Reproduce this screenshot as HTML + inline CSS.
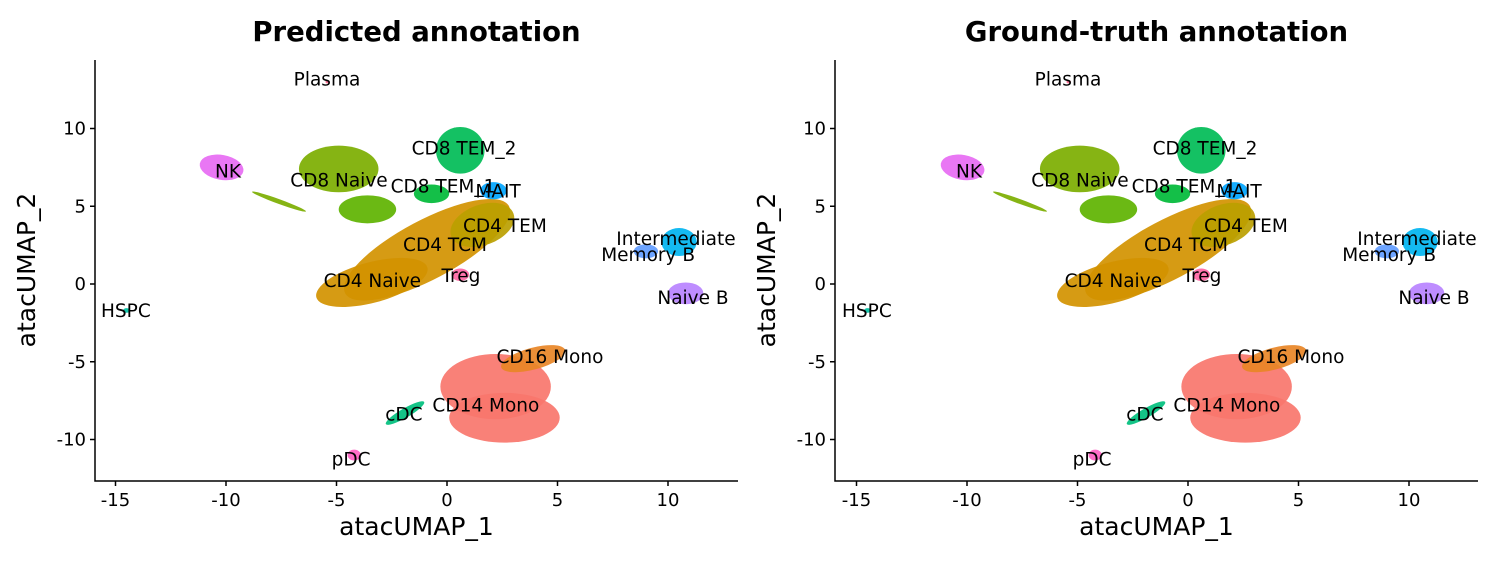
<!DOCTYPE html>
<html><head><meta charset="utf-8">
<style>
body{margin:0;background:#fff;}
svg{display:block;font-family:"DejaVu Sans","Liberation Sans",sans-serif;}
</style></head>
<body>
<svg id="chart" width="1500" height="563" viewBox="0 0 1500 563"></svg>
<script>
// cluster blobs (data units): name, cx, cy, rx, ry, rotation(deg), color
const blobNames = ["CD14 Mono","CD14 Mono low","CD16 Mono","CD4 band","CD4 Naive","CD4 TEM","CD8 Naive","CD8 Naive low","CD8 TEM_2","CD8 TEM_1","MAIT","NK","NK tail","Intermediate","Memory B","Naive B","cDC","pDC","Treg","HSPC","Plasma"];
const blobX = [2.2,2.6,3.9,-0.9,-3.4,1.6,-4.9,-3.6,0.6,-0.7,2.1,-10.2,-7.6,10.5,9.0,10.8,-1.9,-4.2,0.6,-14.5,-5.4];
const blobY = [-6.6,-8.6,-4.8,2.2,0.1,3.8,7.4,4.8,8.6,5.8,6.0,7.5,5.3,2.7,2.1,-0.6,-8.3,-11.0,0.6,-1.7,13.0];
const blobRX = [2.5,2.5,1.5,4.2,2.6,1.5,1.8,1.3,1.1,0.8,0.6,1.0,1.3,0.8,0.55,0.8,1.0,0.3,0.4,0.15,0.1];
const blobRY = [2.1,1.6,0.7,1.9,1.3,1.3,1.5,0.9,1.5,0.6,0.55,0.8,0.15,0.9,0.45,0.7,0.3,0.35,0.4,0.15,0.1];
const blobRot = [0,0,-15,-28,-15,-20,0,0,0,0,0,10,20,0,0,0,-30,0,0,0,0];
const blobColor = ["#F8766D","#F8766D","#E88526","#D39200","#D39200","#BBA000","#7CAE00","#5EB300","#00BC56","#00BA38","#00A5FF","#E76BF3","#7CAE00","#00B4F0","#619CFF","#B983FF","#00BF7D","#FF61C3","#FF67A4","#00C1A3","#FF6C91"];
// labels
const labelText = ["Plasma","CD8 TEM_2","NK","CD8 Naive","CD8 TEM_1","MAIT","CD4 TEM","Intermediate","Memory B","CD4 TCM","Treg","CD4 Naive","Naive B","HSPC","CD16 Mono","CD14 Mono","cDC","pDC"];
const labelX = [-5.43,0.77,-9.91,-4.89,-0.18,2.31,2.62,10.36,9.10,-0.09,0.63,-3.38,11.13,-14.53,4.66,1.76,-1.95,-4.34];
const labelY = [13.16,8.71,7.23,6.65,6.26,5.94,3.74,2.90,1.87,2.52,0.52,0.19,-0.90,-1.74,-4.71,-7.81,-8.39,-11.29];
const xTicks = [-15,-10,-5,0,5,10];
const yTicks = [-10,-5,0,5,10];
const panelTitles = ["Predicted annotation","Ground-truth annotation"];

const NS="http://www.w3.org/2000/svg";
const svg=document.getElementById('chart');
function mk(tag,attrs,parent){const e=document.createElementNS(NS,tag);for(const k in attrs)e.setAttribute(k,attrs[k]);(parent||svg).appendChild(e);return e;}

const panels=[{x0:447,left:95,right:738},{x0:1188,left:835,right:1478}];
panels.forEach((p,pi)=>{
  const g=mk('g',{});
  
  
  const sx=v=>p.x0+v*22.1;
  const sy=v=>284-v*15.55;
  blobNames.forEach((n,i)=>{
    const e=mk('ellipse',{cx:sx(blobX[i]),cy:sy(blobY[i]),rx:blobRX[i]*22.1,ry:blobRY[i]*15.55,fill:blobColor[i],'fill-opacity':0.92,transform:`rotate(${blobRot[i]} ${sx(blobX[i])} ${sy(blobY[i])})`},g);
    
    
  });
  const ax=mk('path',{d:`M${p.left} 60 V481 H${p.right}`,stroke:'#000','stroke-width':1.5,fill:'none'},g);
  
  
  xTicks.forEach(t=>{
    mk('line',{x1:sx(t),x2:sx(t),y1:481,y2:486,stroke:'#000','stroke-width':1.5},g);
    const tx=mk('text',{x:sx(t),y:506,'text-anchor':'middle','font-size':18},g);
    tx.textContent=t;
    
    
  });
  yTicks.forEach(t=>{
    mk('line',{x1:p.left-5,x2:p.left,y1:sy(t),y2:sy(t),stroke:'#000','stroke-width':1.5},g);
    const tx=mk('text',{x:p.left-9,y:sy(t)+6,'text-anchor':'end','font-size':18},g);
    tx.textContent=t;
    
    
  });
  labelText.forEach((l,i)=>{
    const tx=mk('text',{x:sx(labelX[i]),y:sy(labelY[i])+6,'text-anchor':'middle','font-size':18.5},g);
    tx.textContent=l;
    
    
  });
  const cx=(p.left+p.right)/2;
  const ti=mk('text',{x:cx,y:41,'text-anchor':'middle','font-size':27.5,'font-weight':'bold'},g);
  ti.textContent=panelTitles[pi];
  
  
  const xl=mk('text',{x:cx,y:535,'text-anchor':'middle','font-size':25},g);
  xl.textContent='atacUMAP_1';
  
  
  const yx=p.left-60, yy=270;
  const yl=mk('text',{x:yx,y:yy,'text-anchor':'middle','font-size':25,transform:`rotate(-90 ${yx} ${yy})`},g);
  yl.textContent='atacUMAP_2';
  
  
});
</script>
</body></html>
